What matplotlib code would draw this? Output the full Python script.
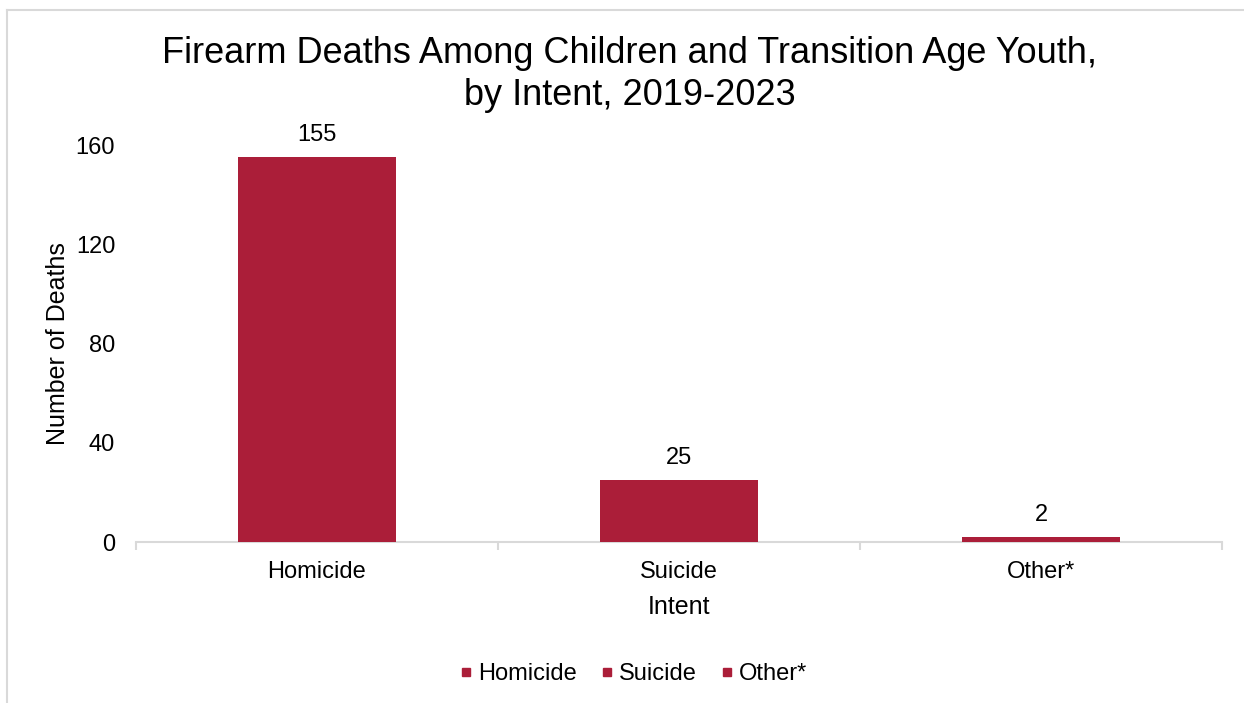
import matplotlib.pyplot as plt
from matplotlib.lines import Line2D

plt.rcParams['font.family'] = ['Liberation Sans', 'DejaVu Sans']

# deaths by intent, 2019-2023
intents = ["Homicide", "Suicide", "Other*"]
deaths = [155, 25, 2]
bar_color = "#AB1E39"

fig = plt.figure(figsize=(12.44, 7.03), dpi=100)
ax = fig.add_axes([0.1093, 0.229, 0.873, 0.5647])

x = list(range(len(intents)))
bars = ax.bar(x, deaths, width=0.434, color=bar_color, zorder=3)
for rect, val in zip(bars, deaths):
    ax.annotate(str(val), (rect.get_x() + rect.get_width() / 2, rect.get_height()),
                xytext=(0, 8), textcoords="offset points",
                ha="center", va="bottom", fontsize=17)

ax.set_xlim(-0.5, len(intents) - 0.5)
ax.set_ylim(0, 160)
ax.set_yticks([0, 40, 80, 120, 160])
ax.set_xticks(x)
ax.set_xticklabels(intents)
# small tick marks between categories
ax.set_xticks([i - 0.5 for i in range(len(intents) + 1)], minor=True)
ax.tick_params(axis="x", which="major", length=0, pad=14, labelsize=17)
ax.tick_params(axis="x", which="minor", length=6, color="#D9D9D9", width=1.5)
ax.tick_params(axis="y", length=0, pad=15, labelsize=17)

for s in ["top", "right", "left"]:
    ax.spines[s].set_visible(False)
ax.spines["bottom"].set_color("#D9D9D9")
ax.spines["bottom"].set_linewidth(1.5)

ax.set_xlabel("Intent", fontsize=18, labelpad=8)
ax.set_ylabel("Number of Deaths", fontsize=18, labelpad=4)

fig.text(0.506, 0.894, "Firearm Deaths Among Children and Transition Age Youth,\nby Intent, 2019-2023",
         ha="center", va="center", fontsize=26, linespacing=1.28)

handles = [Line2D([], [], marker="s", linestyle="", color=bar_color, markersize=6) for _ in intents]
fig.legend(handles, intents, loc="center", bbox_to_anchor=(0.508, 0.041), ncol=3,
           frameon=False, fontsize=17, handletextpad=0.1, columnspacing=0.9, handlelength=0.8)

# frame lines along top and left edge
fig.add_artist(Line2D([7 / 1244, 1], [1 - 10 / 703] * 2, transform=fig.transFigure, color="#D9D9D9", lw=1.5))
fig.add_artist(Line2D([7 / 1244] * 2, [0, 1 - 10 / 703], transform=fig.transFigure, color="#D9D9D9", lw=1.5))

fig.savefig("out.png", dpi=100)
